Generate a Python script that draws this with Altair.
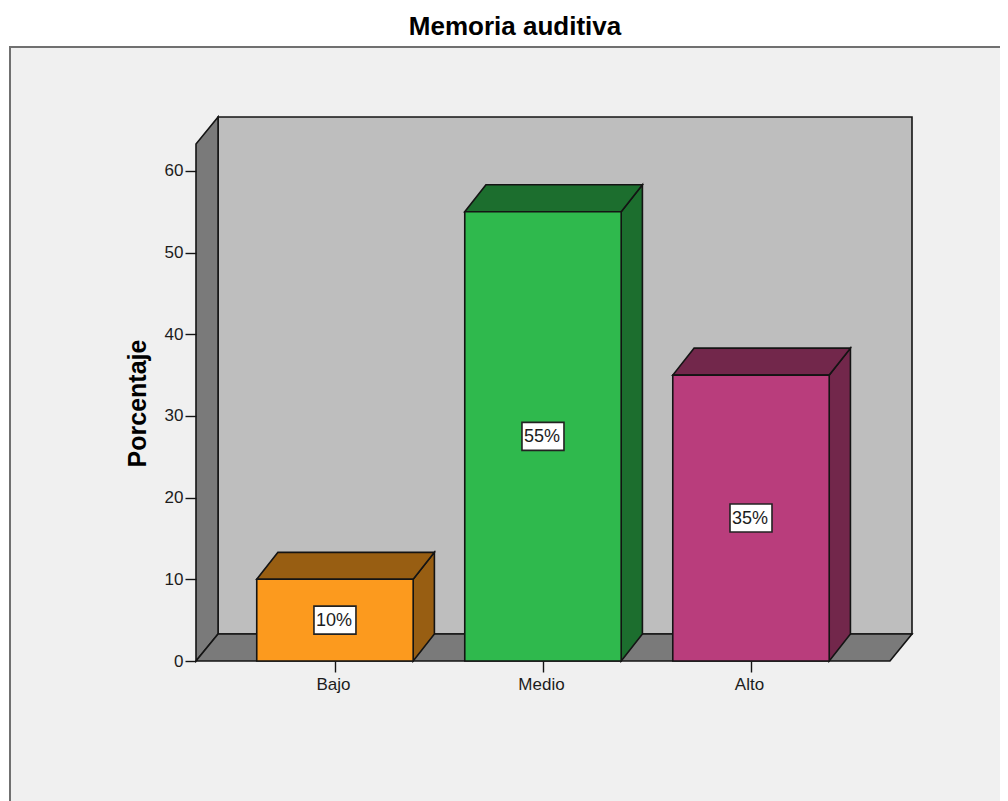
import altair as alt
import pandas as pd

categories = ["Bajo", "Medio", "Alto"]
values = [10, 55, 35]
labels = ["10%", "55%", "35%"]
front_colors = ["#FC9A1E", "#2FB94D", "#B93D7C"]
shade_colors = ["#985E12", "#1C6E2E", "#72274B"]
y_ticks = [0, 10, 20, 30, 40, 50, 60]

DEPTH_X = 0.106
BAR_DEPTH_X = 0.102
DEPTH_Y = 3.3
HALF_BAR = 0.376
LEFT = -0.668
RIGHT = 2.668
TOP = 63.3
LINE = "#141414"
TEXT = "#1c1c1c"

x_scale = alt.Scale(domain=[LEFT, RIGHT + DEPTH_X], nice=False, zero=False)
y_scale = alt.Scale(domain=[0, TOP + DEPTH_Y], nice=False, zero=False)

sides, tops, fronts = [], [], []
for i, (cat, v) in enumerate(zip(categories, values)):
    l, r = i - HALF_BAR, i + HALF_BAR
    fronts.append({"cat": cat, "l": l, "r": r, "v": v, "base": 0, "fill": front_colors[i],
                   "mid": i, "half": v / 2, "label": labels[i]})
    sides += [
        {"cat": cat, "x": r, "y": 0, "y2": v, "fill": shade_colors[i]},
        {"cat": cat, "x": r + BAR_DEPTH_X, "y": DEPTH_Y, "y2": v + DEPTH_Y, "fill": shade_colors[i]},
    ]
    tops += [
        {"cat": cat, "y": v, "x": l, "x2": r, "fill": shade_colors[i]},
        {"cat": cat, "y": v + DEPTH_Y, "x": l + BAR_DEPTH_X, "x2": r + BAR_DEPTH_X, "fill": shade_colors[i]},
    ]

left_wall = pd.DataFrame([
    {"x": LEFT, "y": 0, "y2": TOP},
    {"x": LEFT + DEPTH_X, "y": DEPTH_Y, "y2": TOP + DEPTH_Y},
])
floor = pd.DataFrame([
    {"y": 0, "x": LEFT, "x2": RIGHT},
    {"y": DEPTH_Y, "x": LEFT + DEPTH_X, "x2": RIGHT + DEPTH_X},
])
back = pd.DataFrame([{"x": LEFT + DEPTH_X, "x2": RIGHT + DEPTH_X, "y": DEPTH_Y, "y2": TOP + DEPTH_Y}])

x_axis = alt.Axis(
    values=[0, 1, 2],
    labelExpr="['Bajo','Medio','Alto'][datum.value]",
    title=None, domain=False, grid=False, tickSize=11, tickWidth=1.4, tickColor=LINE,
    labelFont="Liberation Sans", labelFontSize=17, labelColor=TEXT, labelPadding=4, labelOffset=-2, zindex=1,
)
y_axis = alt.Axis(
    values=y_ticks, title="Porcentaje", domain=False, grid=False, tickSize=11, tickWidth=1.4,
    tickColor=LINE, labelFont="Liberation Sans", labelFontSize=17, labelColor=TEXT, labelPadding=2,
    titleFont="Liberation Sans", titleFontSize=25, titleFontWeight="bold", titleColor="#000000",
    titleY=286, titlePadding=14, zindex=1,
)

panel = alt.Chart(alt.Data(values=[{"a": 1}])).mark_rect(
    fill="#F0F0F0", stroke="#707070", strokeWidth=2
).encode(x=alt.value(-186), x2=alt.value(840), y=alt.value(-70), y2=alt.value(710))

stroke = dict(stroke=LINE, strokeWidth=1.6)

back_layer = alt.Chart(back).mark_rect(fill="#BEBEBE", **stroke).encode(
    x=alt.X("x:Q", scale=x_scale, axis=x_axis), x2="x2:Q",
    y=alt.Y("y:Q", scale=y_scale, axis=y_axis), y2="y2:Q",
)
wall_layer = alt.Chart(left_wall).mark_area(fill="#7A7A7A", **stroke).encode(
    x=alt.X("x:Q", scale=x_scale), y=alt.Y("y:Q", scale=y_scale), y2="y2:Q",
)
floor_layer = alt.Chart(floor).mark_area(fill="#7A7A7A", orient="horizontal", **stroke).encode(
    y=alt.Y("y:Q", scale=y_scale), x=alt.X("x:Q", scale=x_scale), x2="x2:Q",
)
side_layer = alt.Chart(pd.DataFrame(sides)).mark_area(**stroke).encode(
    x=alt.X("x:Q", scale=x_scale), y=alt.Y("y:Q", scale=y_scale), y2="y2:Q",
    color=alt.Color("fill:N", scale=None), detail="cat:N",
)
top_layer = alt.Chart(pd.DataFrame(tops)).mark_area(orient="horizontal", **stroke).encode(
    y=alt.Y("y:Q", scale=y_scale), x=alt.X("x:Q", scale=x_scale), x2="x2:Q",
    color=alt.Color("fill:N", scale=None), detail="cat:N",
)
fdf = pd.DataFrame(fronts)
front_layer = alt.Chart(fdf).mark_rect(**stroke).encode(
    x=alt.X("l:Q", scale=x_scale), x2="r:Q",
    y=alt.Y("base:Q", scale=y_scale), y2="v:Q",
    color=alt.Color("fill:N", scale=None),
)
box_layer = alt.Chart(fdf).mark_rect(width=42, height=28, fill="#FFFFFF", stroke="#222222", strokeWidth=1.6).encode(
    x=alt.X("mid:Q", scale=x_scale), y=alt.Y("half:Q", scale=y_scale),
)
text_layer = alt.Chart(fdf).mark_text(font="Liberation Sans", fontSize=18, color=TEXT, dy=1, dx=-1).encode(
    x=alt.X("mid:Q", scale=x_scale), y=alt.Y("half:Q", scale=y_scale), text="label:N",
)

chart = alt.layer(
    panel, back_layer, wall_layer, floor_layer, side_layer, top_layer, front_layer, box_layer, text_layer
).properties(
    width=716, height=544,
    padding={"left": 188, "top": 109, "right": 88, "bottom": 140},
    autosize=alt.AutoSizeParams(type="none"),
    title=alt.Title("Memoria auditiva", font="Liberation Sans", fontSize=26, fontWeight="bold",
                    color="#000000", dx=-39, offset=6),
).configure_view(strokeWidth=0).configure(background="#FFFFFF")

chart.save("out.html", embed_options={"renderer": "svg", "actions": False})
